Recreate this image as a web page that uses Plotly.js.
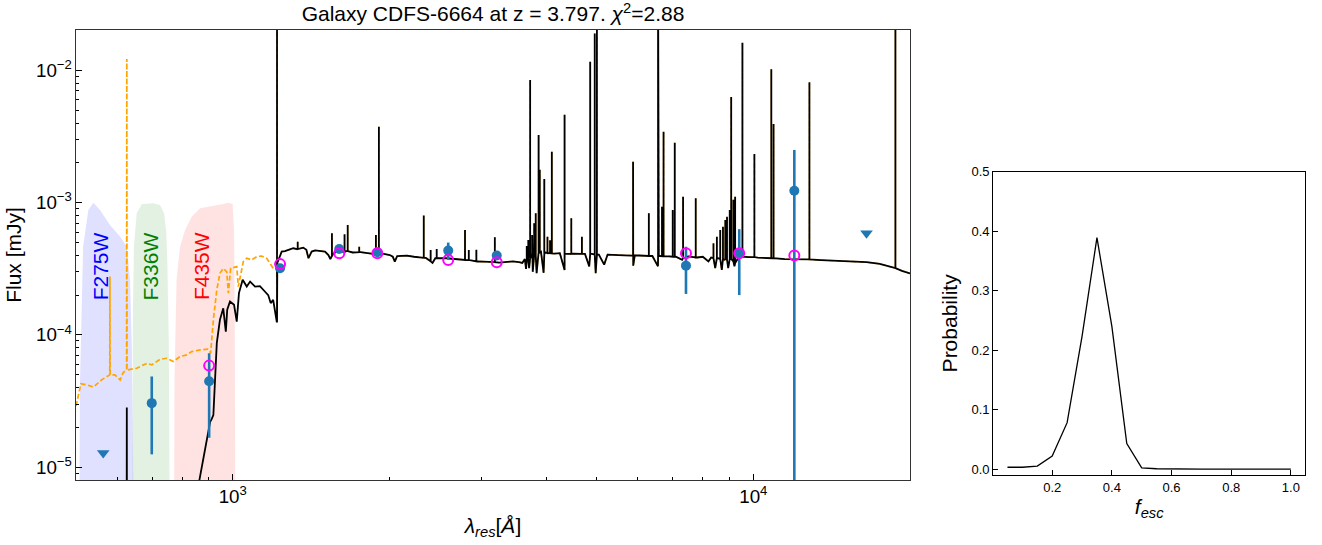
<!DOCTYPE html>
<html><head><meta charset="utf-8">
<script src="https://cdn.plot.ly/plotly-3.0.1.min.js"></script>
<style>html,body{margin:0;padding:0;background:#fff}#chart{width:1322px;height:545px}</style>
</head><body><div id="chart"></div>
<script>
// ---------- SED model: continuum (rest-frame Angstrom, mJy) ----------
const blueSideWave = [500, 620, 625.5, 626, 626.5, 640, 850, 863, 897, 905, 911, 918, 932, 945, 959, 970, 976, 988, 1006, 1018, 1028, 1045, 1064, 1080, 1104, 1128, 1154, 1170, 1183, 1196, 1215];
const blueSideFlux = [1e-6, 1e-6, 1e-6, 2.83e-5, 1e-6, 1e-6, 4e-6, 8e-6, 1.81e-5, 2.2e-5, 2.31e-5, 2.48e-5, 8.66e-5, 1.30e-4, 1.59e-4, 1.06e-4, 1.55e-4, 1.79e-4, 1.69e-4, 1.26e-4, 2.07e-4, 2.61e-4, 2.32e-4, 2.53e-4, 2.32e-4, 2.34e-4, 2.12e-4, 2.0e-4, 1.74e-4, 1.84e-4, 1.26e-4];

const contWave = [1218, 1225, 1242, 1260, 1279, 1307, 1330, 1366, 1385, 1398, 1410, 1418, 1440, 1471, 1504, 1527, 1540, 1560, 1584, 1620, 1655, 1700, 1760, 1809, 1860, 1950, 2004, 2030, 2048, 2070, 2159, 2230, 2290, 2350, 2420, 2450, 2575, 2700, 2800, 2870, 2950, 3050, 3150, 3250, 3350, 3450, 3550, 3600, 3640, 3660, 3690, 3710, 3740, 3770, 3800, 3835, 3860, 3910, 3956, 3990, 4050, 4150, 4250, 4340, 4380, 4500, 4600, 4750, 4840, 4900, 4980, 5050, 5171, 5250, 5450, 5650, 5850, 5880, 5920, 6100, 6400, 6560, 6620, 6900, 7100, 7300, 7500, 7800, 8000, 8200, 8300, 8450, 8550, 8700, 8800, 8950, 9050, 9200, 9350, 9500, 9800, 10200, 10800, 11500, 12500, 13500, 14500, 15500, 16500, 17500, 18500, 19300, 20000];
const contFlux = [3.5e-4, 3.7e-4, 4.27e-4, 4.3e-4, 4.39e-4, 4.52e-4, 4.45e-4, 4.57e-4, 4.4e-4, 3.8e-4, 4.05e-4, 4.27e-4, 4.35e-4, 4.3e-4, 4.27e-4, 4.02e-4, 3.75e-4, 4.1e-4, 4.27e-4, 4.25e-4, 4.3e-4, 4.2e-4, 4.22e-4, 4.14e-4, 4.1e-4, 4.1e-4, 4.02e-4, 3.9e-4, 3.58e-4, 3.95e-4, 3.98e-4, 3.9e-4, 3.84e-4, 3.82e-4, 3.5e-4, 3.8e-4, 3.8e-4, 3.72e-4, 3.69e-4, 3.66e-4, 3.6e-4, 3.57e-4, 3.55e-4, 3.52e-4, 3.56e-4, 3.6e-4, 3.55e-4, 3.5e-4, 3.75e-4, 3.15e-4, 4.0e-4, 3.2e-4, 4.1e-4, 3.0e-4, 4.2e-4, 2.93e-4, 4.2e-4, 4.25e-4, 2.95e-4, 4.2e-4, 4.15e-4, 4.12e-4, 4.15e-4, 3.1e-4, 4.1e-4, 4.12e-4, 4.08e-4, 4.1e-4, 3.3e-4, 4.1e-4, 2.93e-4, 4.05e-4, 3.4e-4, 4.05e-4, 4.05e-4, 4.0e-4, 3.98e-4, 3.34e-4, 4.0e-4, 3.98e-4, 3.95e-4, 3.3e-4, 3.95e-4, 3.92e-4, 3.9e-4, 3.7e-4, 3.92e-4, 3.85e-4, 3.9e-4, 3.6e-4, 3.85e-4, 3.2e-4, 3.8e-4, 3.1e-4, 3.7e-4, 3.2e-4, 3.75e-4, 3.3e-4, 3.8e-4, 3.9e-4, 3.88e-4, 3.84e-4, 3.8e-4, 3.74e-4, 3.72e-4, 3.68e-4, 3.65e-4, 3.6e-4, 3.55e-4, 3.45e-4, 3.25e-4, 3.05e-4, 2.92e-4];

// ---------- emission lines: wavelength, base, peak ----------
const lineWave = [1216.5, 1333, 1551, 1640, 1663, 1750, 1884, 1909, 2328, 2400, 2465, 2794, 2841, 2938, 3188, 3671, 3697, 3727, 3760, 3794, 3820, 3869, 3889, 3968, 4024, 4070, 4102, 4340, 4471, 4686, 4861, 4959, 5007, 5876, 6300, 6312, 6563, 6584, 6678, 6724, 7002, 7065, 7330, 7752, 8385, 8512, 8640, 8745, 8836, 8903, 9010, 9069, 9157, 9229, 9531, 10049, 10830, 10938, 12818, 18751];
const lineBase = [1.26e-4, 4.45e-4, 3.95e-4, 4.25e-4, 4.3e-4, 4.22e-4, 4.1e-4, 4.1e-4, 3.83e-4, 3.6e-4, 3.8e-4, 3.69e-4, 3.68e-4, 3.6e-4, 3.55e-4, 3.6e-4, 3.8e-4, 3.8e-4, 3.8e-4, 4.0e-4, 4.0e-4, 4.2e-4, 4.2e-4, 4.1e-4, 4.15e-4, 4.15e-4, 4.13e-4, 4.1e-4, 4.1e-4, 4.1e-4, 4.1e-4, 4.05e-4, 4.05e-4, 3.98e-4, 3.95e-4, 3.95e-4, 3.95e-4, 3.95e-4, 3.93e-4, 3.93e-4, 3.9e-4, 3.9e-4, 3.8e-4, 3.85e-4, 3.8e-4, 3.8e-4, 3.75e-4, 3.75e-4, 3.75e-4, 3.7e-4, 3.75e-4, 3.75e-4, 3.6e-4, 3.5e-4, 3.9e-4, 3.88e-4, 3.8e-4, 3.8e-4, 3.72e-4, 3.2e-4];
const linePeak = [5e-2, 5.07e-4, 5.87e-4, 5.77e-4, 6.78e-4, 4.65e-4, 5.7e-4, 3.75e-3, 7.98e-4, 4.39e-4, 4.46e-4, 6.22e-4, 4.39e-4, 4.4e-4, 5.47e-4, 4.7e-4, 5.22e-4, 8.45e-3, 5.7e-4, 6.98e-4, 8.3e-4, 3.25e-3, 1.77e-3, 1.51e-3, 5.53e-4, 5.2e-4, 2.43e-3, 4.61e-3, 7.62e-4, 5.53e-4, 1.16e-2, 1.9e-2, 5.6e-2, 2.04e-3, 8.3e-4, 7.0e-4, 5e-2, 1.67e-3, 9.3e-4, 3.44e-3, 8.8e-4, 2.84e-3, 1.11e-3, 1.08e-3, 4.93e-4, 5.53e-4, 6.22e-4, 6.58e-4, 7.4e-4, 7.84e-4, 8.8e-4, 6.3e-3, 1.05e-3, 1.11e-3, 1.62e-2, 2.33e-3, 1.02e-2, 3.94e-3, 8.13e-3, 5e-2];

// ---------- intrinsic (no IGM) model blueward of Ly-alpha ----------
const intrWave = [500, 503, 511, 524, 540, 560, 580.5, 581, 581.5, 594, 608, 616, 625.5, 626, 626.5, 654, 684, 699, 725, 747, 769, 792, 816, 834, 866, 898, 907, 918, 932, 945, 959, 974, 981, 991, 1018, 1025, 1048, 1064, 1088, 1112, 1137, 1162, 1179, 1196, 1215, 1216.5];
const intrFlux = [2.9e-5, 3.23e-5, 4.27e-5, 4.2e-5, 4.03e-5, 4.57e-5, 4.99e-5, 2.76e-4, 4.99e-5, 4.99e-5, 4.57e-5, 5.19e-5, 5.43e-5, 1.22e-2, 5.43e-5, 5.6e-5, 6.1e-5, 5.93e-5, 6.54e-5, 6.66e-5, 6.3e-5, 6.86e-5, 7.06e-5, 7.48e-5, 7.7e-5, 7.8e-5, 7.28e-5, 1.3e-4, 2.19e-4, 2.92e-4, 3.19e-4, 3.0e-4, 2.07e-4, 3.19e-4, 3.28e-4, 2.32e-4, 3.58e-4, 3.8e-4, 3.69e-4, 3.91e-4, 3.95e-4, 3.8e-4, 3.48e-4, 3.19e-4, 3.19e-4, 3.4e-4];

// ---------- filter transmission curves (scaled) ----------
const f275Wave = [505, 509, 516, 528, 540, 556, 581, 608, 626, 635, 640, 644, 652];
const f275Flux = [1e-7, 4.57e-5, 4.65e-4, 8.8e-4, 1.0e-3, 8.8e-4, 6.78e-4, 5.53e-4, 4.65e-4, 2.61e-4, 8.16e-5, 2.56e-5, 1e-7];
const f336Wave = [640, 643, 646, 654, 669, 704, 725, 738, 745, 749, 754, 760];
const f336Flux = [1e-7, 1.46e-4, 4.65e-4, 8.3e-4, 9.78e-4, 9.9e-4, 9.6e-4, 8.3e-4, 6.22e-4, 3.48e-4, 8.16e-5, 1e-7];
const f435Wave = [769, 773, 780, 792, 810, 834, 866, 918, 959, 981, 1000, 1006, 1009, 1015];
const f435Flux = [1e-7, 4.57e-5, 2.61e-4, 4.65e-4, 6.22e-4, 7.84e-4, 9.08e-4, 9.44e-4, 9.78e-4, 1.0e-3, 9.78e-4, 6.22e-4, 1.46e-4, 1e-7];
const filterNames = ['F275W', 'F336W', 'F435W'];

// ---------- photometry ----------
const obsWave = [699, 901, 1233, 1602, 1896, 2594, 3215, 7425, 9398, 11990];
const obsFlux = [3.05e-5, 4.47e-5, 3.19e-4, 4.46e-4, 4.22e-4, 4.34e-4, 3.98e-4, 3.34e-4, 4.15e-4, 1.23e-3];
const obsErr  = [1.8e-5, 2.8e-5, 1.0e-5, 1.0e-5, 1.0e-5, 6.5e-5, 1.5e-5, 1.3e-4, 2.15e-4, 1.27e-3];
const limWave = [564, 16500];
const limFlux = [1.28e-5, 5.87e-4];
const modWave = [901, 1233, 1602, 1896, 2594, 3215, 7425, 9398, 11990];
const modFlux = [5.86e-5, 3.43e-4, 4.14e-4, 4.14e-4, 3.69e-4, 3.54e-4, 4.15e-4, 4.15e-4, 3.98e-4];

// ---------- f_esc posterior ----------
const fescX = [0.05, 0.1, 0.15, 0.2, 0.25, 0.3, 0.35, 0.4, 0.45, 0.5, 0.55, 0.6, 0.65, 0.7, 0.75, 0.8, 0.85, 0.9, 0.95, 1.0];
const fescP = [0.003, 0.003, 0.005, 0.022, 0.078, 0.223, 0.389, 0.24, 0.043, 0.002, 0.0005, 0, 0, 0, 0, 0, 0, 0, 0, 0];

// merge continuum and emission-line spikes into one spectrum
function buildSpectrum() {
  const ev = [];
  contWave.forEach((w, i) => ev.push([w, [contFlux[i]]]));
  lineWave.forEach((w, i) => ev.push([w, [lineBase[i], linePeak[i], lineBase[i]]]));
  ev.sort((a, b) => a[0] - b[0]);
  const x = [], y = [];
  ev.forEach(e => e[1].forEach(v => { x.push(e[0]); y.push(v); }));
  return {x, y};
}
const red = buildSpectrum();
const blackX = blueSideWave.concat(red.x), blackY = blueSideFlux.concat(red.y);

const C = '#1f77b4';
const traces = [
  {x: f275Wave, y: f275Flux, mode: 'lines', fill: 'toself', fillcolor: 'rgba(0,0,255,0.12)', line: {width: 0}, hoverinfo: 'skip', xaxis: 'x', yaxis: 'y'},
  {x: f336Wave, y: f336Flux, mode: 'lines', fill: 'toself', fillcolor: 'rgba(0,128,0,0.11)', line: {width: 0}, hoverinfo: 'skip', xaxis: 'x', yaxis: 'y'},
  {x: f435Wave, y: f435Flux, mode: 'lines', fill: 'toself', fillcolor: 'rgba(255,0,0,0.11)', line: {width: 0}, hoverinfo: 'skip', xaxis: 'x', yaxis: 'y'},
  // intrinsic model: dashed blueward of Ly-alpha, hidden under the black line redward
  {x: intrWave, y: intrFlux, mode: 'lines', line: {color: 'orange', width: 1.7, dash: '5px,2.5px'}, xaxis: 'x', yaxis: 'y'},
  {x: red.x, y: red.y, mode: 'lines', line: {color: 'orange', width: 1.4, dash: '5px,2.5px'}, xaxis: 'x', yaxis: 'y'},
  {x: blackX, y: blackY, mode: 'lines', line: {color: 'black', width: 1.8}, xaxis: 'x', yaxis: 'y'},
  {x: obsWave, y: obsFlux, mode: 'markers', marker: {color: C, size: 10},
   error_y: {type: 'data', array: obsErr, visible: true, color: C, thickness: 2.6, width: 0}, xaxis: 'x', yaxis: 'y'},
  {x: limWave, y: limFlux, mode: 'markers', marker: {color: C, size: 11, symbol: 'triangle-down'}, xaxis: 'x', yaxis: 'y'},
  {x: modWave, y: modFlux, mode: 'markers', marker: {color: '#ff00ff', size: 10, symbol: 'circle-open', line: {color: '#ff00ff', width: 2}}, xaxis: 'x', yaxis: 'y'},
  {x: fescX, y: fescP, mode: 'lines', line: {color: 'black', width: 1.3}, xaxis: 'x2', yaxis: 'y2'}
];

const FONT = 'Liberation Sans, Arial, Helvetica, sans-serif';
const W = 1322, H = 545;
const filterColors = ['#0000ff', '#008000', '#ff0000'];
const filterLabelWave = [556, 694, 872];
const annotations = filterNames.map((n, i) => ({
  text: n, x: Math.log10(filterLabelWave[i]), y: Math.log10(3.3e-4), xref: 'x', yref: 'y',
  showarrow: false, textangle: -90, font: {family: FONT, size: 21, color: filterColors[i]}
}));

const layout = {
  width: W, height: H,
  margin: {l: 0, r: 0, t: 0, b: 0},
  paper_bgcolor: '#fff', plot_bgcolor: '#fff',
  showlegend: false,
  font: {family: FONT, color: '#000'},
  title: {text: 'Galaxy CDFS-6664 at z = 3.797. <i>χ</i><sup>2</sup>=2.88', x: 493 / W, xanchor: 'center', y: 1 - 14 / H, yanchor: 'middle', font: {family: FONT, size: 21, color: '#000'}},
  xaxis: {
    type: 'log', range: [Math.log10(500), Math.log10(20000)], domain: [76 / W, 910 / W], anchor: 'y',
    dtick: 1, exponentformat: 'power', ticks: 'inside', ticklen: 6, tickcolor: '#000', tickwidth: 1,
    minor: {ticks: 'inside', ticklen: 3, dtick: 'D1', tickcolor: '#000', showgrid: false},
    showgrid: false, zeroline: false, showline: true, linecolor: '#333', linewidth: 1.2, mirror: true,
    tickfont: {family: FONT, size: 15, color: '#000'},
    title: {text: '<i>λ<sub>res</sub></i>[<i>Å</i>]', font: {family: FONT, size: 21}, standoff: 12}
  },
  yaxis: {
    type: 'log', range: [Math.log10(8e-6), Math.log10(0.0202)], domain: [(H - 480) / H, (H - 30) / H], anchor: 'x',
    dtick: 1, exponentformat: 'power', ticks: 'inside', ticklen: 6, tickcolor: '#000', tickwidth: 1,
    minor: {ticks: 'inside', ticklen: 3, dtick: 'D1', tickcolor: '#000', showgrid: false},
    showgrid: false, zeroline: false, showline: true, linecolor: '#333', linewidth: 1.2, mirror: true,
    tickfont: {family: FONT, size: 15, color: '#000'},
    title: {text: 'Flux [mJy]', font: {family: FONT, size: 21}, standoff: 8}
  },
  xaxis2: {
    range: [0.0025, 1.0475], domain: [993.3 / W, 1305 / W], anchor: 'y2',
    tickvals: [0.2, 0.4, 0.6, 0.8, 1.0], tickformat: '.1f', ticks: 'inside', ticklen: 5, tickcolor: '#000',
    showgrid: false, zeroline: false, showline: true, linecolor: '#000', linewidth: 1.2, mirror: true,
    tickfont: {family: FONT, size: 13, color: '#000'},
    title: {text: '<i>f<sub>esc</sub></i>', font: {family: FONT, size: 21}, standoff: 3}
  },
  yaxis2: {
    range: [-0.01, 0.5], domain: [(H - 475) / H, (H - 171.7) / H], anchor: 'x2',
    dtick: 0.1, tick0: 0, tickformat: '.1f', ticks: 'inside', ticklen: 5, tickcolor: '#000',
    showgrid: false, zeroline: false, showline: true, linecolor: '#000', linewidth: 1.2, mirror: true,
    tickfont: {family: FONT, size: 13, color: '#000'},
    title: {text: 'Probability', font: {family: FONT, size: 21}, standoff: 8}
  },
  annotations: annotations
};

Plotly.newPlot('chart', traces, layout, {staticPlot: true, displayModeBar: false});
</script>
</body></html>
